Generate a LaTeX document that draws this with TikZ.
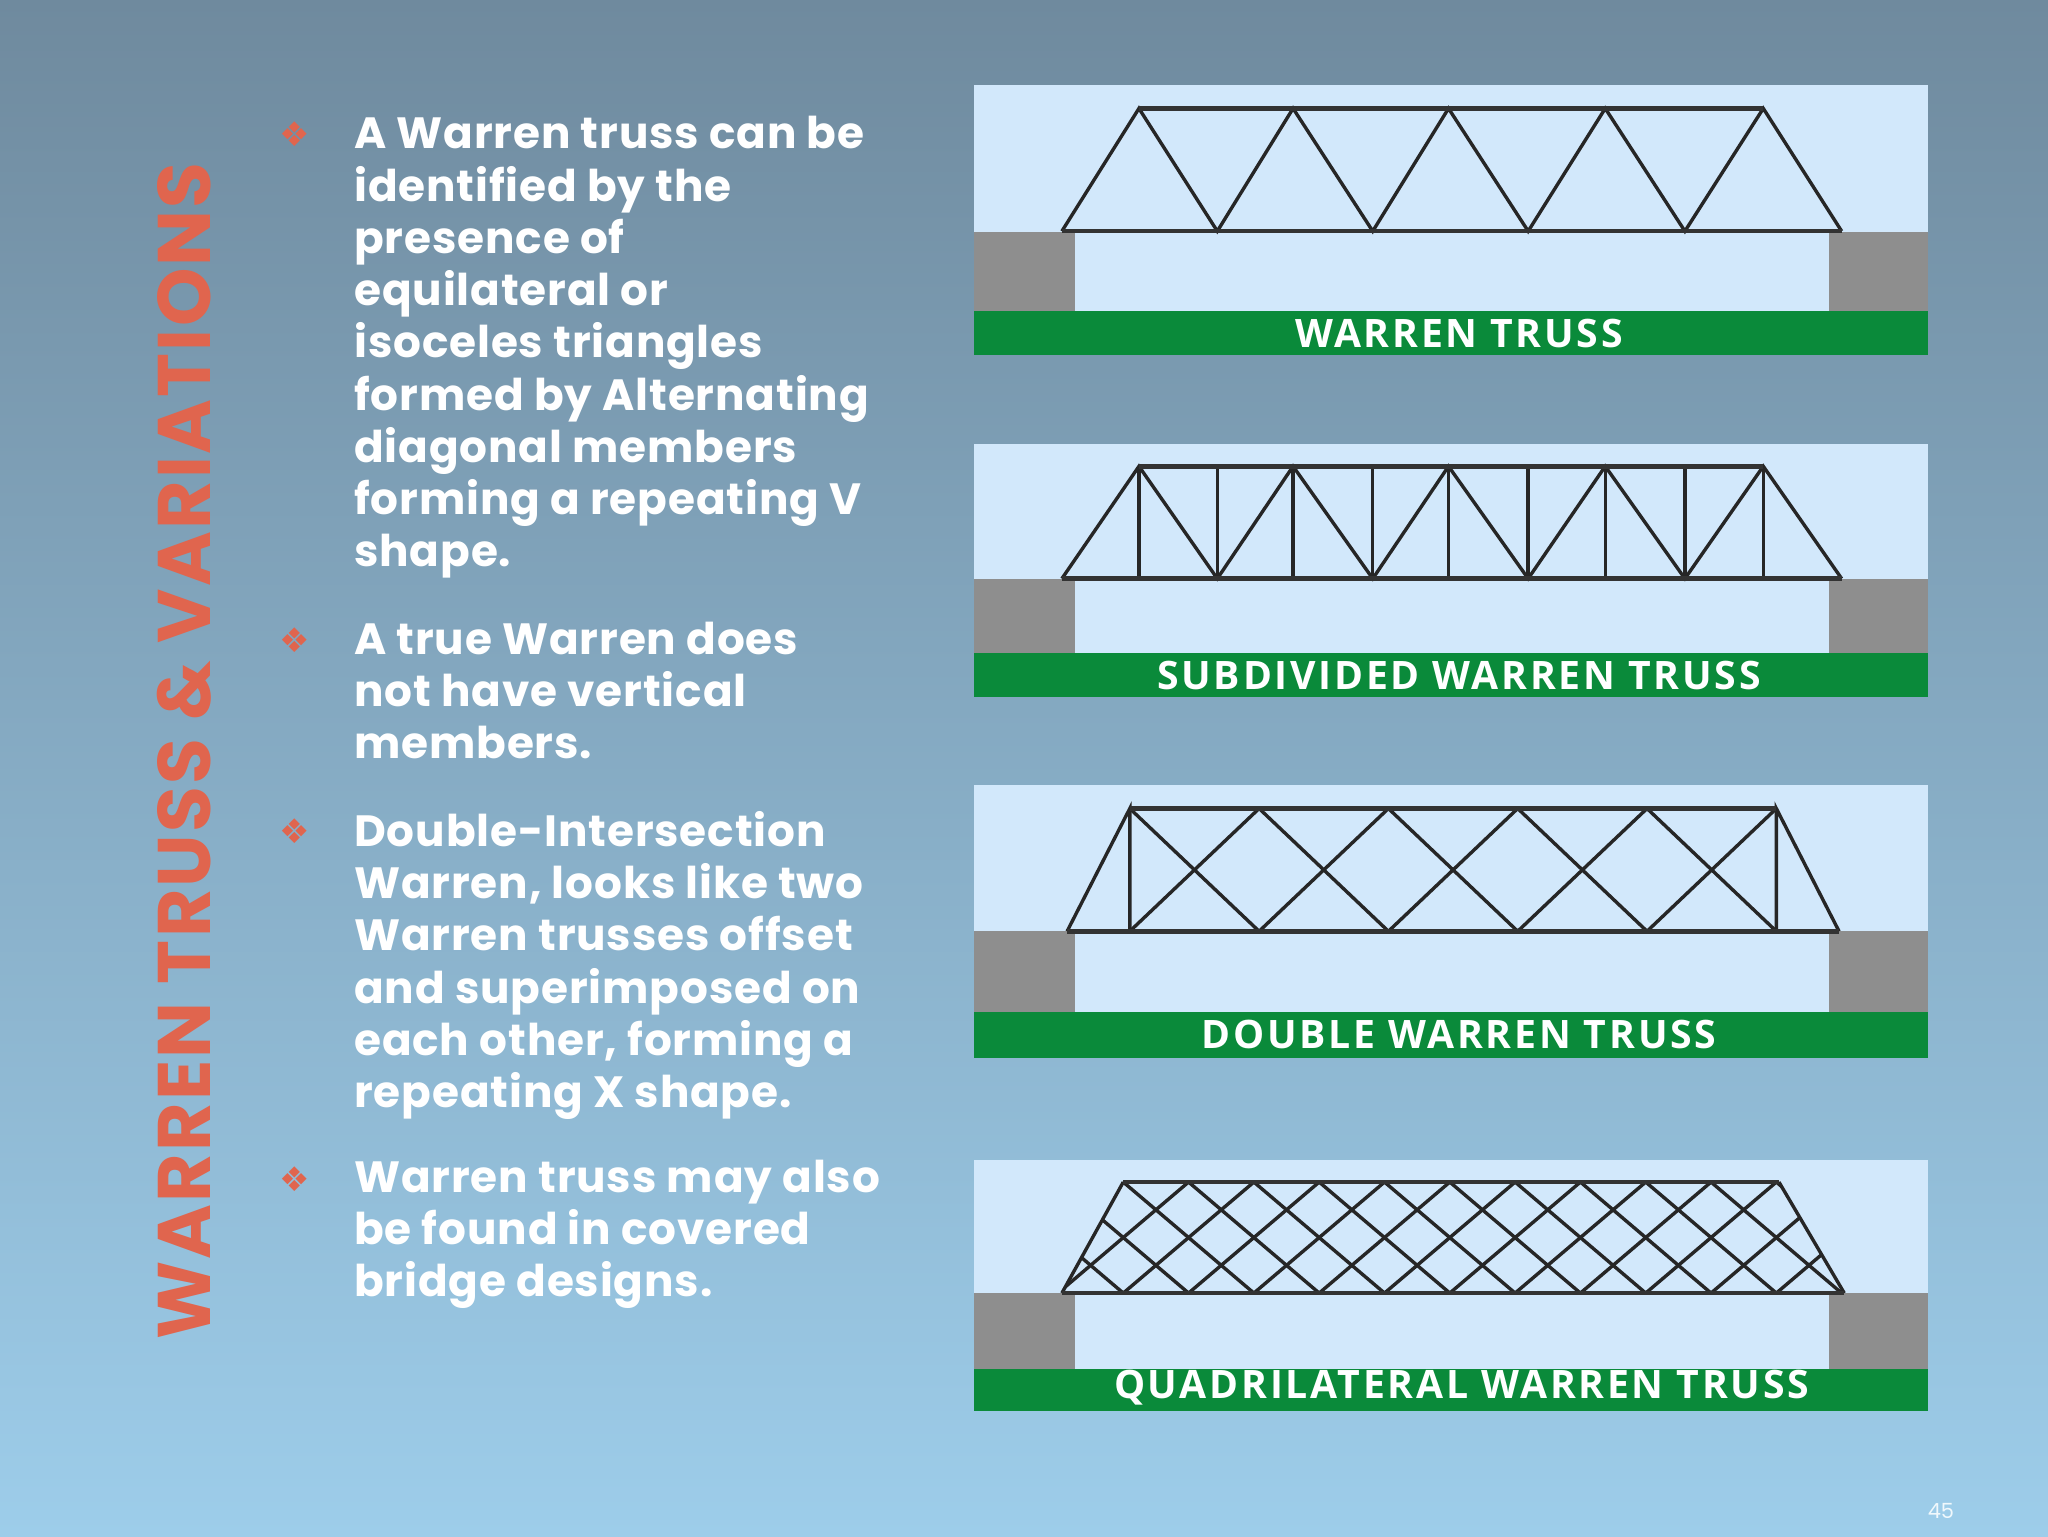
\documentclass[tikz,border=0pt]{standalone}
\usepackage{fontspec}
\setmainfont{Poppins}
\newfontfamily\symf{DejaVu Sans}
\newfontfamily\labf[LetterSpace=7]{Open Sans}
\definecolor{bgtop}{HTML}{6F8A9E}
\definecolor{bgbot}{HTML}{9DCDEA}
\definecolor{sky}{HTML}{D2E8FB}
\definecolor{grn}{HTML}{0A8A3A}
\definecolor{abut}{HTML}{8E8E8E}
\definecolor{ttl}{HTML}{E0654E}
\tikzset{
 bul/.style={text=ttl,font=\symf\fontsize{26}{26}\selectfont,anchor=center},
 txt/.style={text=white,font=\fontsize{33.5}{40}\selectfont\bfseries\addfontfeature{LetterSpace=2},anchor=north west,align=left,inner sep=0pt},
 lab/.style={text=white,font=\labf\fontsize{30}{30}\selectfont\bfseries,anchor=center},
 mem/.style={line width=2.6pt,draw=black!85},
 chord/.style={line width=3.4pt,draw=black!80}
}
\newcommand{\panel}[4]{% top, abutment top, green top, bottom
 \fill[sky] (746,#1) rectangle (1476,#3);
 \fill[abut] (746,#2) rectangle (823,#3);
 \fill[abut] (1400,#2) rectangle (1476,#3);
 \fill[grn] (746,#3) rectangle (1476,#4);
}
\begin{document}
\begin{tikzpicture}[x=1pt,y=-1pt]
\shade[top color=bgtop,bottom color=bgbot] (0,0) rectangle (1568,1176);
\useasboundingbox (0,0) rectangle (1568,1176);
\node[rotate=90,text=ttl,font=\fontsize{57}{57}\selectfont\bfseries\addfontfeature{LetterSpace=3}] (title) at (141,575) {WARREN TRUSS \& VARIATIONS};
% bullets
\node[bul] (b1) at (226,103) {❖};
\node[txt] (t1) at (271,89) {A Warren truss can be\\identified by the\\presence of\\equilateral or\\isoceles triangles\\formed by Alternating\\diagonal members\\forming a repeating V\\shape.};
\node[bul] (b2) at (226,490) {❖};
\node[txt] (t2) at (271,476) {A true Warren does\\not have vertical\\members.};
\node[bul] (b3) at (226,636) {❖};
\node[txt] (t3) at (271,621) {Double-Intersection\\Warren, looks like two\\Warren trusses offset\\and superimposed on\\each other, forming a\\repeating X shape.};
\node[bul] (b4) at (226,903) {❖};
\node[txt] (t4) at (271,888) {Warren truss may also\\be found in covered\\bridge designs.};
% panel 1
\panel{65}{178}{238}{272}
\draw[mem] (813,177) -- (872,83) -- (932,177) -- (990,83) -- (1051,177) -- (1109,83) -- (1170,177) -- (1229,83) -- (1290,177) -- (1350,83) -- (1410,177);
\draw[chord] (813,177) -- (1410,177);
\draw[chord] (872,83) -- (1350,83);
\node[lab] (l1) at (1117,255) {WARREN TRUSS};
% panel 2
\panel{340}{443}{500}{534}
\draw[mem] (813,443) -- (872,357) -- (932,443) -- (990,357) -- (1051,443) -- (1109,357) -- (1170,443) -- (1229,357) -- (1290,443) -- (1350,357) -- (1410,443);
\foreach \x in {872,932,990,1051,1109,1170,1229,1290,1350} \draw[mem] (\x,357) -- (\x,443);
\draw[chord] (813,443) -- (1410,443);
\draw[chord] (872,357) -- (1350,357);
\node[lab] (l2) at (1117,517) {SUBDIVIDED WARREN TRUSS};
% panel 3
\panel{601}{713}{775}{810}
\draw[mem] (817,713) -- (865,619) -- (865,713);
\draw[mem] (1408,713) -- (1360,619) -- (1360,713);
\foreach \a/\b in {865/964,964/1063,1063/1162,1162/1261,1261/1360} {
 \draw[mem] (\a,619) -- (\b,713);
 \draw[mem] (\a,713) -- (\b,619);
}
\draw[chord] (817,713) -- (1408,713);
\draw[chord] (865,619) -- (1360,619);
\node[lab] (l3) at (1117,792) {DOUBLE WARREN TRUSS};
% panel 4
\panel{888}{990}{1048}{1080}
\begin{scope}
\clip (813,990) -- (860,905) -- (1362,905) -- (1412,990) -- cycle;
\foreach \k in {-3,...,12} {
 \draw[mem] ({760+50*\k},905) -- ({860+50*\k},990);
 \draw[mem] ({860+50*\k},905) -- ({760+50*\k},990);
}
\end{scope}
\draw[mem] (813,990) -- (860,905);
\draw[mem] (1412,990) -- (1362,905);
\draw[chord] (813,990) -- (1412,990);
\draw[chord] (860,905) -- (1362,905);
\node[lab] (l4) at (1119,1062) {QUADRILATERAL WARREN TRUSS};
\node[text=white!85!bgbot,font=\fontsize{16}{16}\selectfont] (pg) at (1486,1157) {45};
\end{tikzpicture}
\end{document}
